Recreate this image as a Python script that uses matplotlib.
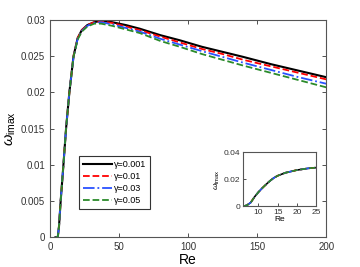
import numpy as np
import matplotlib
matplotlib.use("Agg")
import matplotlib.pyplot as plt

plt.rcParams['font.family'] = ['Liberation Sans', 'DejaVu Sans']
plt.rcParams['mathtext.fontset'] = 'custom'
plt.rcParams['mathtext.rm'] = 'Liberation Sans'
plt.rcParams['mathtext.it'] = 'Liberation Sans:italic'

# main curves: Re vs omega_imax
re_main = [4, 5.6, 6.5, 7.7, 9.7, 11.6, 14, 17, 20, 23, 27, 32, 37, 45, 55, 65,
           80, 94, 110, 125, 140, 160, 180, 200]
w_g001 = [0, 0, 0.0015, 0.005, 0.010, 0.015, 0.020, 0.0250, 0.0275, 0.0286, 0.0293,
          0.0297, 0.0299, 0.0297, 0.0293, 0.0288, 0.0279, 0.0272, 0.0263, 0.0256,
          0.0249, 0.0239, 0.0230, 0.0221]
w_g01 = [0, 0, 0.0015, 0.005, 0.010, 0.015, 0.020, 0.0250, 0.0275, 0.0286, 0.0293,
         0.0297, 0.0298, 0.0296, 0.0291, 0.0286, 0.0277, 0.0269, 0.0260, 0.0253,
         0.0245, 0.0236, 0.0227, 0.0218]
w_g03 = [0, 0, 0.0015, 0.005, 0.010, 0.015, 0.020, 0.0249, 0.0274, 0.0285, 0.0292,
         0.0296, 0.0297, 0.0294, 0.0289, 0.0284, 0.0274, 0.0266, 0.0257, 0.0249,
         0.0241, 0.0231, 0.0221, 0.0212]
w_g05 = [0, 0, 0.0015, 0.005, 0.010, 0.015, 0.020, 0.0249, 0.0273, 0.0284, 0.0291,
         0.0295, 0.0295, 0.0292, 0.0287, 0.0282, 0.0271, 0.0263, 0.0253, 0.0245,
         0.0237, 0.0227, 0.0217, 0.0207]

# inset (zoom on the onset)
re_in = [6, 7, 8, 9, 10, 11, 12, 13, 14, 15, 17, 20, 23, 25]
w_in = [0, 0.0008, 0.0028, 0.0070, 0.0105, 0.0135, 0.0162, 0.0188, 0.0210, 0.0226,
        0.0248, 0.0268, 0.0281, 0.0286]

labels = ['\u03b3=0.001', '\u03b3=0.01', '\u03b3=0.03', '\u03b3=0.05']
series = [w_g001, w_g01, w_g03, w_g05]
colors = ['black', 'red', '#2a52ff', '#2a8a2a']
styles = ['-', '--', '-.', '--']
widths = [1.5, 1.3, 1.3, 1.3]

fig = plt.figure(figsize=(3.6, 2.67), dpi=100)
ax = fig.add_axes([0.139, 0.112, 0.767, 0.813])
for y, c, ls, lw, lab in zip(series, colors, styles, widths, labels):
    ax.plot(re_main, y, color=c, linestyle=ls, lw=lw, label=lab)
ax.set_xlim(0, 200)
ax.set_ylim(0, 0.03)
ax.set_xticks([0, 50, 100, 150, 200])
ax.set_yticks([0, 0.005, 0.01, 0.015, 0.02, 0.025, 0.03])
ax.set_yticklabels(['0', '0.005', '0.01', '0.015', '0.02', '0.025', '0.03'])
ax.tick_params(direction='in', top=True, right=True, labelsize=7, length=3,
               colors='#333333', width=0.6)
for s in ax.spines.values():
    s.set_color('#555555')
    s.set_linewidth(0.8)
ax.set_xlabel('Re', fontsize=10, labelpad=1)
ax.set_ylabel(r'$\omega_{\mathrm{imax}}$', fontsize=10.5, labelpad=2)
leg = ax.legend(loc='lower left', bbox_to_anchor=(0.105, 0.129), fontsize=6.5,
                handlelength=3.2, borderaxespad=0, fancybox=False, framealpha=1,
                labelspacing=0.35, handletextpad=0.3, borderpad=0.4)
leg.get_frame().set_edgecolor('#333333')
leg.get_frame().set_linewidth(0.8)

axi = fig.add_axes([0.675, 0.227, 0.203, 0.203])
for c, ls in zip(colors, styles):
    axi.plot(re_in, w_in, color=c, linestyle=ls, lw=1.2)
axi.set_xlim(6, 25)
axi.set_ylim(0, 0.04)
axi.set_xticks([10, 15, 20, 25])
axi.set_yticks([0, 0.02, 0.04])
axi.set_yticklabels(['0', '0.02', '0.04'])
axi.tick_params(direction='in', labelsize=6, length=2, colors='#333333',
                width=0.6, pad=2)
for s in axi.spines.values():
    s.set_color('#555555')
    s.set_linewidth(0.8)
axi.set_xlabel('Re', fontsize=6, labelpad=0)
axi.set_ylabel(r'$\omega_{\mathrm{imax}}$', fontsize=6, labelpad=1)

fig.savefig('out.png', dpi=100)
